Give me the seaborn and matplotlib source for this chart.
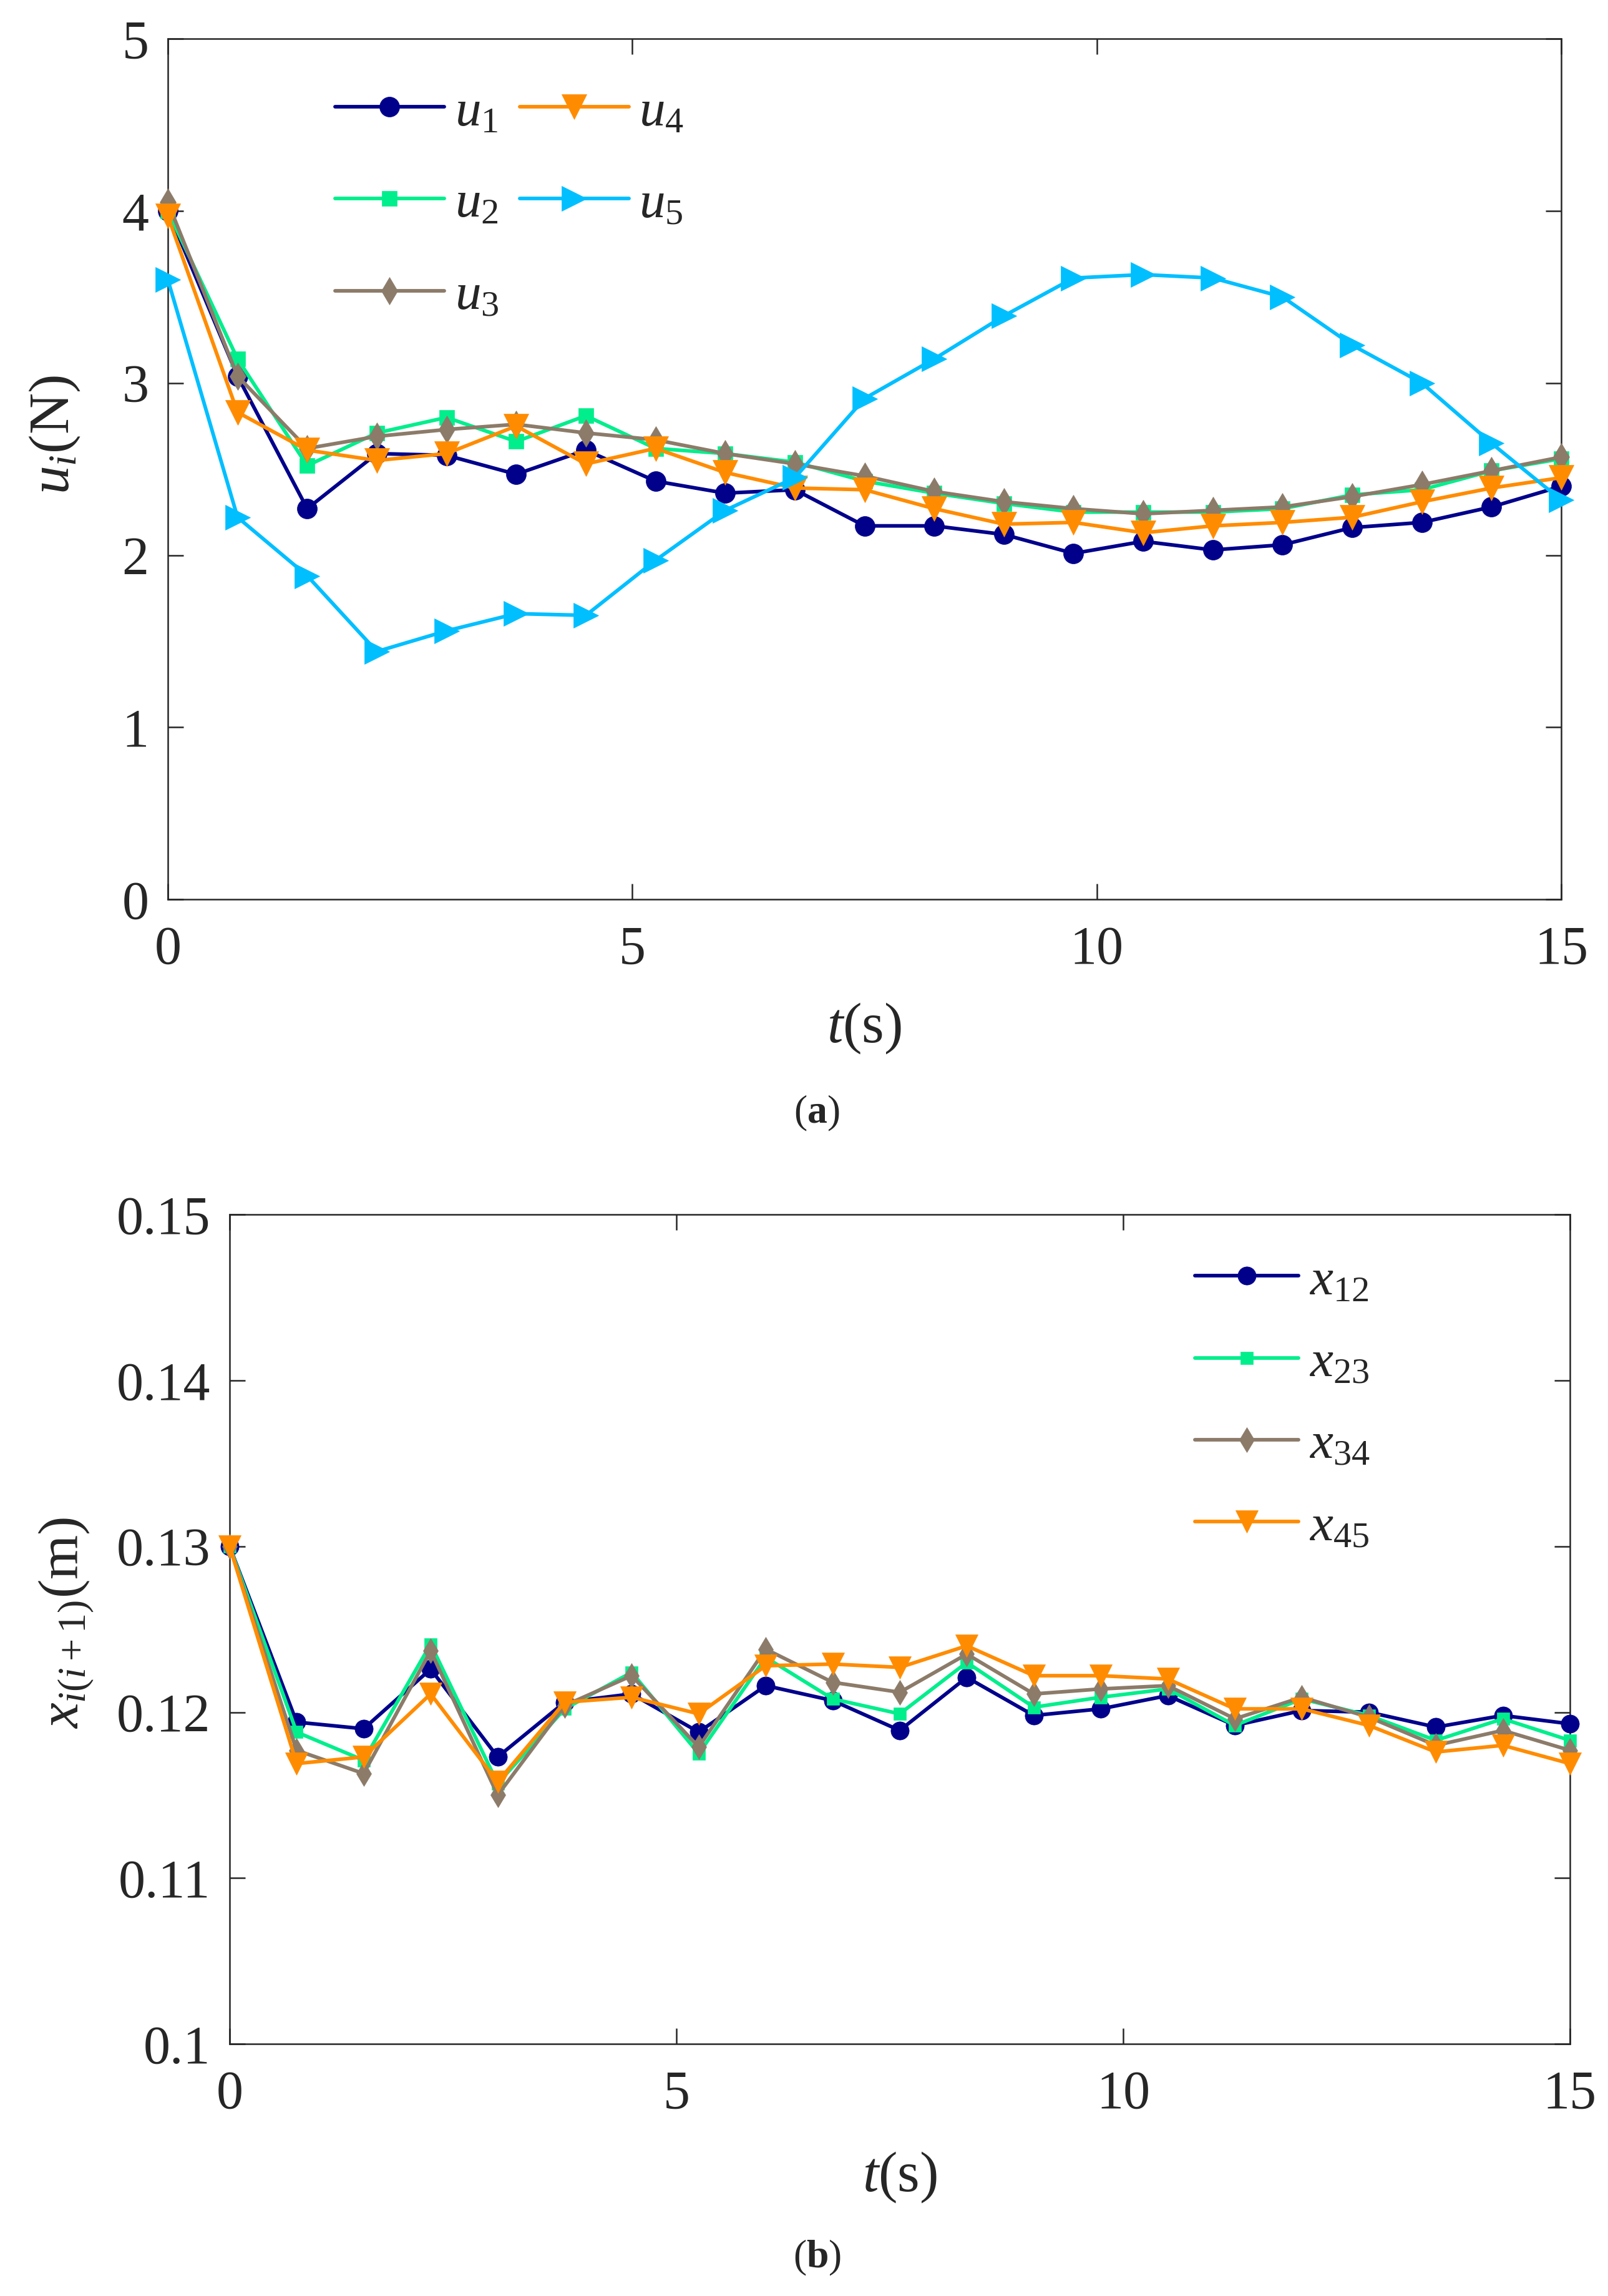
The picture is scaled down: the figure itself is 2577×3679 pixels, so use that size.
import numpy as np
import pandas as pd
import matplotlib
matplotlib.use('agg')
import seaborn as sns
import matplotlib.pyplot as plt
from matplotlib.ticker import FormatStrFormatter

# time samples (s)
t = [0, 0.75, 1.5, 2.25, 3, 3.75, 4.5, 5.25, 6, 6.75, 7.5,
     8.25, 9, 9.75, 10.5, 11.25, 12, 12.75, 13.5, 14.25, 15]

# (a) control forces u_i (N)
u1 = [4.00, 3.04, 2.27, 2.59, 2.58, 2.47, 2.61, 2.43, 2.36, 2.38, 2.17,
      2.17, 2.12, 2.01, 2.08, 2.03, 2.06, 2.16, 2.19, 2.28, 2.40]
u2 = [4.00, 3.14, 2.52, 2.71, 2.80, 2.66, 2.81, 2.62, 2.59, 2.54, 2.43,
      2.36, 2.30, 2.25, 2.25, 2.25, 2.27, 2.35, 2.38, 2.49, 2.56]
u3 = [4.05, 3.04, 2.62, 2.69, 2.73, 2.76, 2.71, 2.67, 2.59, 2.53, 2.46,
      2.37, 2.31, 2.27, 2.24, 2.26, 2.28, 2.34, 2.41, 2.49, 2.57]
u4 = [3.97, 2.83, 2.61, 2.55, 2.59, 2.75, 2.53, 2.62, 2.48, 2.39, 2.38,
      2.27, 2.18, 2.19, 2.13, 2.17, 2.19, 2.22, 2.31, 2.39, 2.45]
u5 = [3.60, 2.22, 1.88, 1.44, 1.56, 1.66, 1.65, 1.97, 2.26, 2.45, 2.91,
      3.14, 3.39, 3.61, 3.63, 3.61, 3.50, 3.22, 3.00, 2.65, 2.32]

# (b) spacings x_{i(i+1)} (m)
x12 = [0.1300, 0.1194, 0.1190, 0.1226, 0.1173, 0.1206, 0.1211, 0.1188, 0.1216, 0.1207, 0.1189,
       0.1221, 0.1198, 0.1202, 0.1210, 0.1192, 0.1201, 0.1200, 0.1191, 0.1198, 0.1193]
x23 = [0.1300, 0.1188, 0.1171, 0.1241, 0.1157, 0.1202, 0.1224, 0.1175, 0.1233, 0.1208, 0.1199,
       0.1230, 0.1203, 0.1209, 0.1214, 0.1192, 0.1208, 0.1198, 0.1183, 0.1196, 0.1183]
x34 = [0.1300, 0.1177, 0.1163, 0.1237, 0.1150, 0.1204, 0.1222, 0.1179, 0.1238, 0.1218, 0.1212,
       0.1235, 0.1211, 0.1214, 0.1216, 0.1196, 0.1209, 0.1197, 0.1180, 0.1189, 0.1177]
x45 = [0.1300, 0.1169, 0.1173, 0.1211, 0.1158, 0.1206, 0.1209, 0.1199, 0.1228, 0.1229, 0.1227,
       0.1240, 0.1222, 0.1222, 0.1220, 0.1202, 0.1202, 0.1192, 0.1176, 0.1180, 0.1169]

NAVY = '#00008B'
GREEN = '#00EE8C'
GRAY = '#8C7B69'
ORANGE = '#FF8C00'
SKY = '#00BFFF'

sns.set_theme(style='ticks')
plt.rcParams['font.family'] = ['Liberation Serif', 'DejaVu Serif']
plt.rcParams['mathtext.fontset'] = 'custom'
plt.rcParams['mathtext.rm'] = 'Liberation Serif'
plt.rcParams['mathtext.it'] = 'Liberation Serif:italic'
plt.rcParams['mathtext.bf'] = 'Liberation Serif:bold'

TICK_FS = 62
LEG_FS = 60
LW = 4.2


def draw(ax, y, color, marker, ms, label):
	sns.lineplot(x=t, y=y, ax=ax, color=color, marker=marker, markersize=ms,
				 markeredgecolor=color, markeredgewidth=0.5, linewidth=LW,
				 label=label, clip_on=False, zorder=3, legend=False)


def style_axes(ax):
	for s in ax.spines.values():
		s.set_linewidth(1.8)
		s.set_color('#262626')
	ax.tick_params(direction='in', length=18, width=1.8, top=True, right=True,
				   labelsize=TICK_FS, colors='#262626', labelcolor='#262626')
	ax.tick_params(axis='x', pad=30)
	ax.tick_params(axis='y', pad=22)


fig = plt.figure(figsize=(25.77, 36.79), dpi=100)

# ---- (a)
ax1 = fig.add_axes([0.1044, 0.6083, 0.8665, 0.3748])
draw(ax1, u1, NAVY, 'o', 23, r'$u_1$')
draw(ax1, u2, GREEN, 's', 17, r'$u_2$')
draw(ax1, u3, GRAY, 'd', 22, r'$u_3$')
draw(ax1, u4, ORANGE, 'v', 29, r'$u_4$')
draw(ax1, u5, SKY, '>', 29, r'$u_5$')
ax1.set_xlim(0, 15)
ax1.set_ylim(0, 5)
ax1.set_xticks([0, 5, 10, 15])
ax1.set_yticks([0, 1, 2, 3, 4, 5])
style_axes(ax1)
ax1.set_xlabel(r'$t$(s)', fontsize=66, color='#262626')
ax1.set_ylabel(r'$u_i$(N)', fontsize=66, color='#262626')
ax1.xaxis.set_label_coords(0.5, -0.118)
ax1.yaxis.set_label_coords(-0.062, 0.54)
h, l = ax1.get_legend_handles_labels()
ax1.legend(h, l, loc='upper left', bbox_to_anchor=(0.12, 0.942), ncol=2,
		   frameon=False, fontsize=LEG_FS, handlelength=2.1, handletextpad=0.2,
		   columnspacing=0.4, labelspacing=0.85, borderpad=0, borderaxespad=0)

# ---- (b)
ax2 = fig.add_axes([0.1428, 0.1098, 0.8335, 0.3612])
draw(ax2, x12, NAVY, 'o', 21, r'$x_{12}$')
draw(ax2, x23, GREEN, 's', 15, r'$x_{23}$')
draw(ax2, x34, GRAY, 'd', 20, r'$x_{34}$')
draw(ax2, x45, ORANGE, 'v', 26, r'$x_{45}$')
ax2.set_xlim(0, 15)
ax2.set_ylim(0.1, 0.15)
ax2.set_xticks([0, 5, 10, 15])
ax2.set_yticks([0.10, 0.11, 0.12, 0.13, 0.14, 0.15])
ax2.yaxis.set_major_formatter(FormatStrFormatter('%g'))
style_axes(ax2)
ax2.set_xlabel(r'$t$(s)', fontsize=66, color='#262626')
ax2.set_ylabel(r'$x_{i(i+1)}$(m)', fontsize=66, color='#262626')
ax2.xaxis.set_label_coords(0.5, -0.128)
ax2.yaxis.set_label_coords(-0.10, 0.508)
h, l = ax2.get_legend_handles_labels()
ax2.legend(h, l, loc='upper left', bbox_to_anchor=(0.72, 0.948), ncol=1,
		   frameon=False, fontsize=LEG_FS, handlelength=2.0, handletextpad=0.2,
		   labelspacing=0.66, borderpad=0, borderaxespad=0)

fig.text(0.508, 0.515, r'($\mathbf{a}$)', fontsize=46, ha='center', va='center', color='#262626')
fig.text(0.508, 0.0166, r'($\mathbf{b}$)', fontsize=46, ha='center', va='center', color='#262626')

fig.savefig('out.png', dpi=100)
